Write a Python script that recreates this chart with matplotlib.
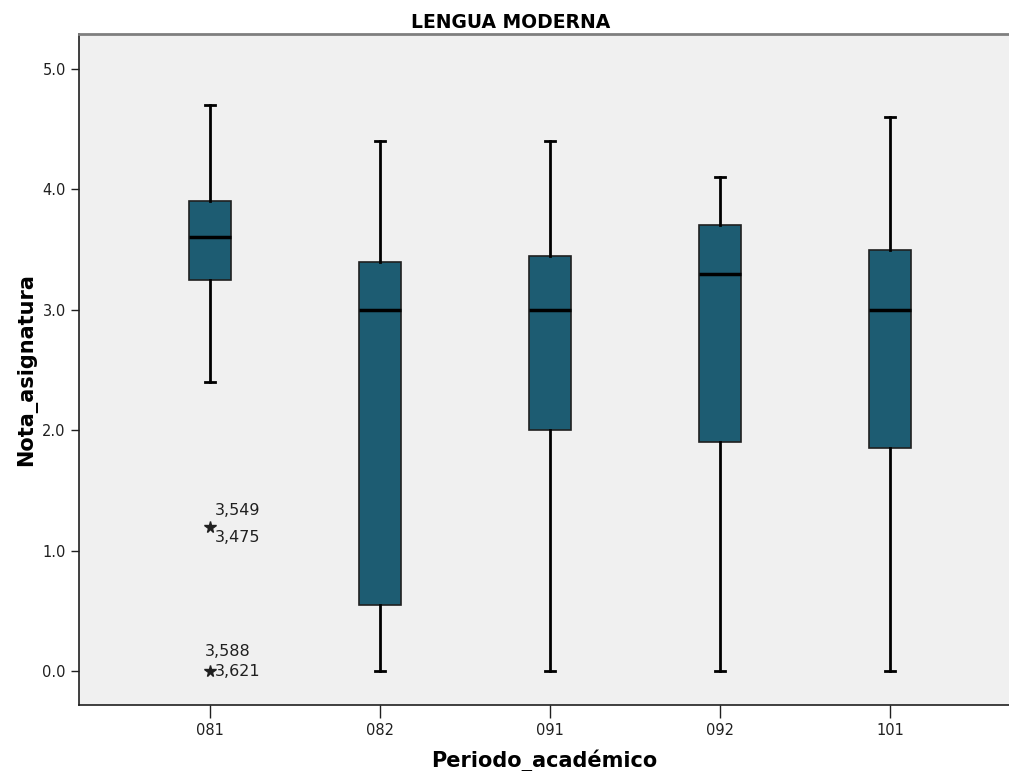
import matplotlib
matplotlib.use("Agg")
import matplotlib.pyplot as plt

plt.rcParams['font.family'] = ['DejaVu Sans']

periods = ["081", "082", "091", "092", "101"]
whislo = [2.4, 0.0, 0.0, 0.0, 0.0]
q1 = [3.25, 0.55, 2.0, 1.9, 1.85]
med = [3.6, 3.0, 3.0, 3.3, 3.0]
q3 = [3.9, 3.4, 3.45, 3.7, 3.5]
whishi = [4.7, 4.4, 4.4, 4.1, 4.6]
outlier_vals = [1.2, 0.0]
outlier_labels = [("3,549", "3,475"), ("3,588", "3,621")]

fig = plt.figure(figsize=(10.09, 7.71), dpi=100)
ax = fig.add_axes([0.0783, 0.0856, 0.9217, 0.8704])
ax.set_facecolor('#f0f0f0')

stats = []
for i, p in enumerate(periods):
    stats.append(dict(label=p, whislo=whislo[i], q1=q1[i], med=med[i],
                      q3=q3[i], whishi=whishi[i], fliers=[]))

ax.bxp(stats, positions=range(len(periods)), widths=0.247, patch_artist=True,
       showfliers=False,
       boxprops=dict(facecolor='#1d5c72', edgecolor='#202020', linewidth=1.2),
       medianprops=dict(color='black', linewidth=2.5),
       whiskerprops=dict(color='black', linewidth=2),
       capprops=dict(color='black', linewidth=2),
       capwidths=0.06)

# extreme outliers for 081
ax.plot([0, 0], outlier_vals, linestyle='none', marker='*', color='#202020', markersize=8.5)
ax.text(0.03, outlier_vals[0] + 0.07, outlier_labels[0][0], fontsize=11.5, ha='left', va='bottom', color='#202020')
ax.text(0.03, outlier_vals[0] - 0.03, outlier_labels[0][1], fontsize=11.5, ha='left', va='top', color='#202020')
ax.text(-0.03, outlier_vals[1] + 0.1, outlier_labels[1][0], fontsize=11.5, ha='left', va='bottom', color='#202020')
ax.text(0.03, outlier_vals[1], outlier_labels[1][1], fontsize=11.5, ha='left', va='center', color='#202020')

ax.set_xlim(-0.771, 4.70)
ax.set_ylim(-0.282, 5.29)
ax.set_yticks([0, 1, 2, 3, 4, 5])
ax.set_yticklabels(["0.0", "1.0", "2.0", "3.0", "4.0", "5.0"], fontsize=10.5, color='#202020')
ax.set_xticks(range(len(periods)))
ax.set_xticklabels(periods, fontsize=10.5, color='#202020')
ax.tick_params(axis='y', direction='out', length=6, width=1, color='#202020')
ax.tick_params(axis='x', direction='out', length=9, width=1, color='#202020', pad=4)

ax.spines['right'].set_visible(False)
ax.spines['top'].set_color('#7f7f7f')
ax.spines['top'].set_linewidth(2)
ax.spines['left'].set_color('#202020')
ax.spines['bottom'].set_color('#202020')
ax.spines['left'].set_linewidth(1.2)
ax.spines['bottom'].set_linewidth(1.2)

fig.text(511 / 1009, 1 - 28 / 771, "LENGUA MODERNA", fontsize=13.5, fontweight='bold',
         ha='center', va='baseline')
ax.set_xlabel("Periodo_académico", fontsize=15, fontweight='bold', labelpad=8)
ax.set_ylabel("Nota_asignatura", fontsize=15, fontweight='bold', labelpad=4)

fig.savefig("out.png", dpi=100)
